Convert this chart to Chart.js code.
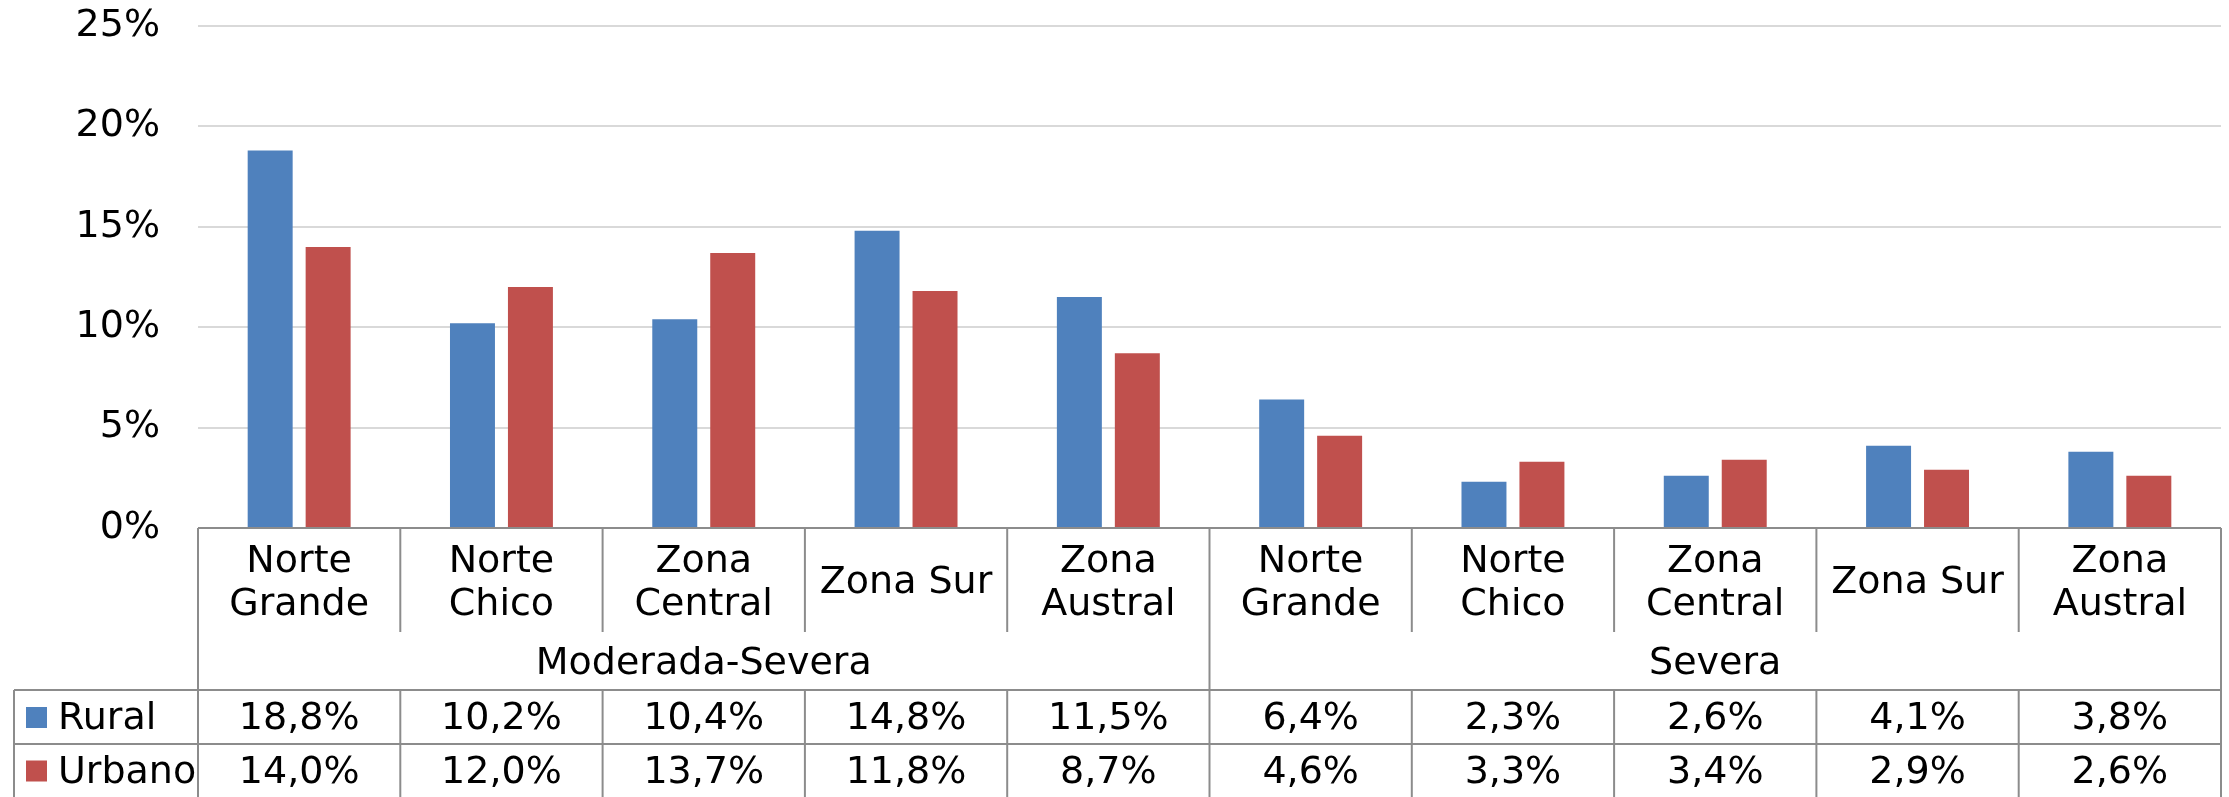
<!DOCTYPE html>
<html>
<head>
<meta charset="utf-8">
<script src="https://cdn.jsdelivr.net/npm/chart.js@4.4.1/dist/chart.umd.min.js"></script>
<style>
  body { margin: 0; background: #fff; }
  canvas { display: block; }
</style>
</head>
<body>
<canvas id="chart" width="2229" height="797"></canvas>
<script>
const categories = [
    ['Norte', 'Grande'], ['Norte', 'Chico'], ['Zona', 'Central'], ['Zona Sur'], ['Zona', 'Austral'],
    ['Norte', 'Grande'], ['Norte', 'Chico'], ['Zona', 'Central'], ['Zona Sur'], ['Zona', 'Austral']
  ],
  groups = ['Moderada-Severa', 'Severa'],
  groupSizes = [5, 5],
  rural = [18.8, 10.2, 10.4, 14.8, 11.5, 6.4, 2.3, 2.6, 4.1, 3.8],
  urbano = [14.0, 12.0, 13.7, 11.8, 8.7, 4.6, 3.3, 3.4, 2.9, 2.6],
  yTicks = [0, 5, 10, 15, 20, 25];

const FONT = '38px "DejaVu Sans"',
  LINE = '#8c8c8c',
  fmt = v => v.toFixed(1).replace('.', ',') + '%';

// data table under the plot, laid out from the x scale
const dataTablePlugin = {
  id: 'dataTable',
  afterDraw(chart) {
    const ctx = chart.ctx,
      x = chart.scales.x,
      area = chart.chartArea,
      n = categories.length,
      colW = x.width / n,
      edge = i => x.getPixelForValue(i) - colW / 2,
      top = area.bottom,
      catBottom = 632,
      groupBottom = 690,
      row1Bottom = 744,
      row2Bottom = 797,
      legendLeft = 14;

    ctx.save();
    ctx.strokeStyle = LINE;
    ctx.lineWidth = 2;
    const line = (x1, y1, x2, y2) => {
      ctx.beginPath();
      ctx.moveTo(x1, y1);
      ctx.lineTo(x2, y2);
      ctx.stroke();
    };

    // horizontal lines
    line(area.left, top, area.right, top);
    line(legendLeft, groupBottom, area.right, groupBottom);
    line(legendLeft, row1Bottom, area.right, row1Bottom);

    // vertical lines
    for (let i = 0; i <= n; i++) {
      const px = i === n ? area.right : edge(i);
      line(px, top, px, catBottom);
      line(px, groupBottom, px, row2Bottom);
    }
    let g = 0;
    line(area.left, catBottom, area.left, groupBottom);
    groupSizes.forEach(s => {
      g += s;
      const px = g === n ? area.right : edge(g);
      line(px, catBottom, px, groupBottom);
    });
    line(legendLeft, groupBottom, legendLeft, row2Bottom);

    ctx.fillStyle = '#000';
    ctx.font = FONT;
    ctx.textAlign = 'center';
    ctx.textBaseline = 'alphabetic';

    // category labels
    const catMid = (top + catBottom) / 2;
    categories.forEach((lab, i) => {
      const cx = x.getPixelForValue(i);
      if (lab.length === 1) {
        ctx.fillText(lab[0], cx, catMid + 13);
      } else {
        ctx.fillText(lab[0], cx, catMid - 8);
        ctx.fillText(lab[1], cx, catMid + 35);
      }
    });

    // group labels
    let start = 0;
    groups.forEach((name, k) => {
      const end = start + groupSizes[k];
      const l = edge(start), r = end === n ? area.right : edge(end);
      ctx.fillText(name, (l + r) / 2, (catBottom + groupBottom) / 2 + 13);
      start = end;
    });

    // value rows with legend keys
    const rows = [[groupBottom, row1Bottom], [row1Bottom, row2Bottom]];
    chart.data.datasets.forEach((ds, k) => {
      const mid = (rows[k][0] + rows[k][1]) / 2;
      ctx.fillStyle = ds.backgroundColor;
      ctx.fillRect(26, mid - 10, 21, 21);
      ctx.fillStyle = '#000';
      ctx.textAlign = 'left';
      ctx.fillText(ds.label, 58, mid + 12);
      ctx.textAlign = 'center';
      ds.data.forEach((v, i) => {
        ctx.fillText(fmt(v), x.getPixelForValue(i), mid + 12);
      });
    });
    ctx.restore();
  }
};

new Chart(document.getElementById('chart'), {
  type: 'bar',
  data: {
    labels: categories,
    datasets: [
      { label: 'Rural', data: rural, backgroundColor: '#4f81bd' },
      { label: 'Urbano', data: urbano, backgroundColor: '#c0504d' }
    ]
  },
  options: {
    responsive: false,
    animation: false,
    layout: { padding: { top: 26, right: 8, bottom: 269, left: 0 } },
    datasets: { bar: { categoryPercentage: 0.573, barPercentage: 0.776 } },
    plugins: { legend: { display: false }, tooltip: { enabled: false } },
    scales: {
      x: { display: false },
      y: {
        min: yTicks[0],
        max: yTicks[yTicks.length - 1],
        afterFit: s => {
          s.width = 198;
          s.paddingTop = 0;
          s.paddingBottom = 0;
        },
        afterBuildTicks: s => { s.ticks = yTicks.map(v => ({ value: v })); },
        border: { display: false },
        grid: { color: '#d9d9d9', lineWidth: 2, drawTicks: false },
        ticks: {
          padding: 38,
          color: '#000',
          font: { family: 'DejaVu Sans', size: 38 },
          callback: v => v + '%'
        }
      }
    }
  },
  plugins: [dataTablePlugin]
});
</script>
</body>
</html>
